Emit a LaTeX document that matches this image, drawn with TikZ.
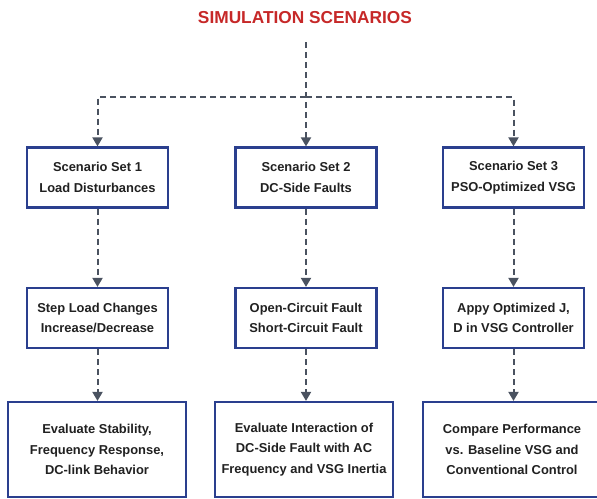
\documentclass[tikz,border=0pt]{standalone}
\usepackage{fontspec}
\setmainfont{Liberation Sans}
\usetikzlibrary{arrows.meta}
\definecolor{navy}{HTML}{2A3F8E}
\definecolor{conngray}{HTML}{4A5260}
\definecolor{titlered}{HTML}{C62828}
\tikzset{
  box/.style={draw=navy, line width=2.2pt, fill=white, align=center,
    font=\bfseries\fontsize{12.9}{20.5}\selectfont, text=black!87,
    minimum width=141pt, minimum height=60pt, inner sep=0pt},
  bigbox/.style={box, minimum width=178pt, minimum height=95pt},
  conn/.style={draw=conngray, line width=2pt, dash pattern=on 6pt off 4pt,
    -{Triangle[width=10pt,length=9pt]}}
}
\begin{document}
\begin{tikzpicture}[x=1pt,y=-1pt]
\useasboundingbox (0,0) rectangle (597,498);
\node[text=titlered, font=\bfseries\fontsize{17.3}{20}\selectfont] (title) at (305,18) {SIMULATION SCENARIOS};

\node[box] (s1) at (97.5,177.5) {Scenario Set 1\\Load Disturbances};
\node[box] (s2) at (306,177.5) {Scenario Set 2\\DC-Side Faults};
\node[box] (s3) at (513.5,177.5) {Scenario Set 3\\PSO-Optimized VSG};

\node[box] (a1) at (97.5,318) {Step Load Changes\\Increase/Decrease};
\node[box] (a2) at (306,318) {Open-Circuit Fault\\Short-Circuit Fault};
\node[box] (a3) at (513.5,318) {Appy Optimized J,\\D in VSG Controller};

\node[bigbox] (e1) at (97,449.5) {Evaluate Stability,\\Frequency Response,\\DC-link Behavior};
\node[bigbox] (e2) at (304,449.5) {Evaluate Interaction of\\DC-Side Fault with AC\\Frequency and VSG Inertia};
\node[bigbox] (e3) at (512,449.5) {Compare Performance\\vs. Baseline VSG and\\Conventional Control};

\coordinate (ts) at (306,42);
\coordinate (jm) at (306,97);

\draw[conn] (ts) -- (s2);
\draw[conn] (jm) -| (s1);
\draw[conn] (jm) -| (s3);

\draw[conn] (s1) -- (a1);
\draw[conn] (s2) -- (a2);
\draw[conn] (s3) -- (a3);

\draw[conn] (a1.south) -- (a1.south |- e1.north);
\draw[conn] (a2.south) -- (a2.south |- e2.north);
\draw[conn] (a3.south) -- (a3.south |- e3.north);
\end{tikzpicture}
\end{document}
